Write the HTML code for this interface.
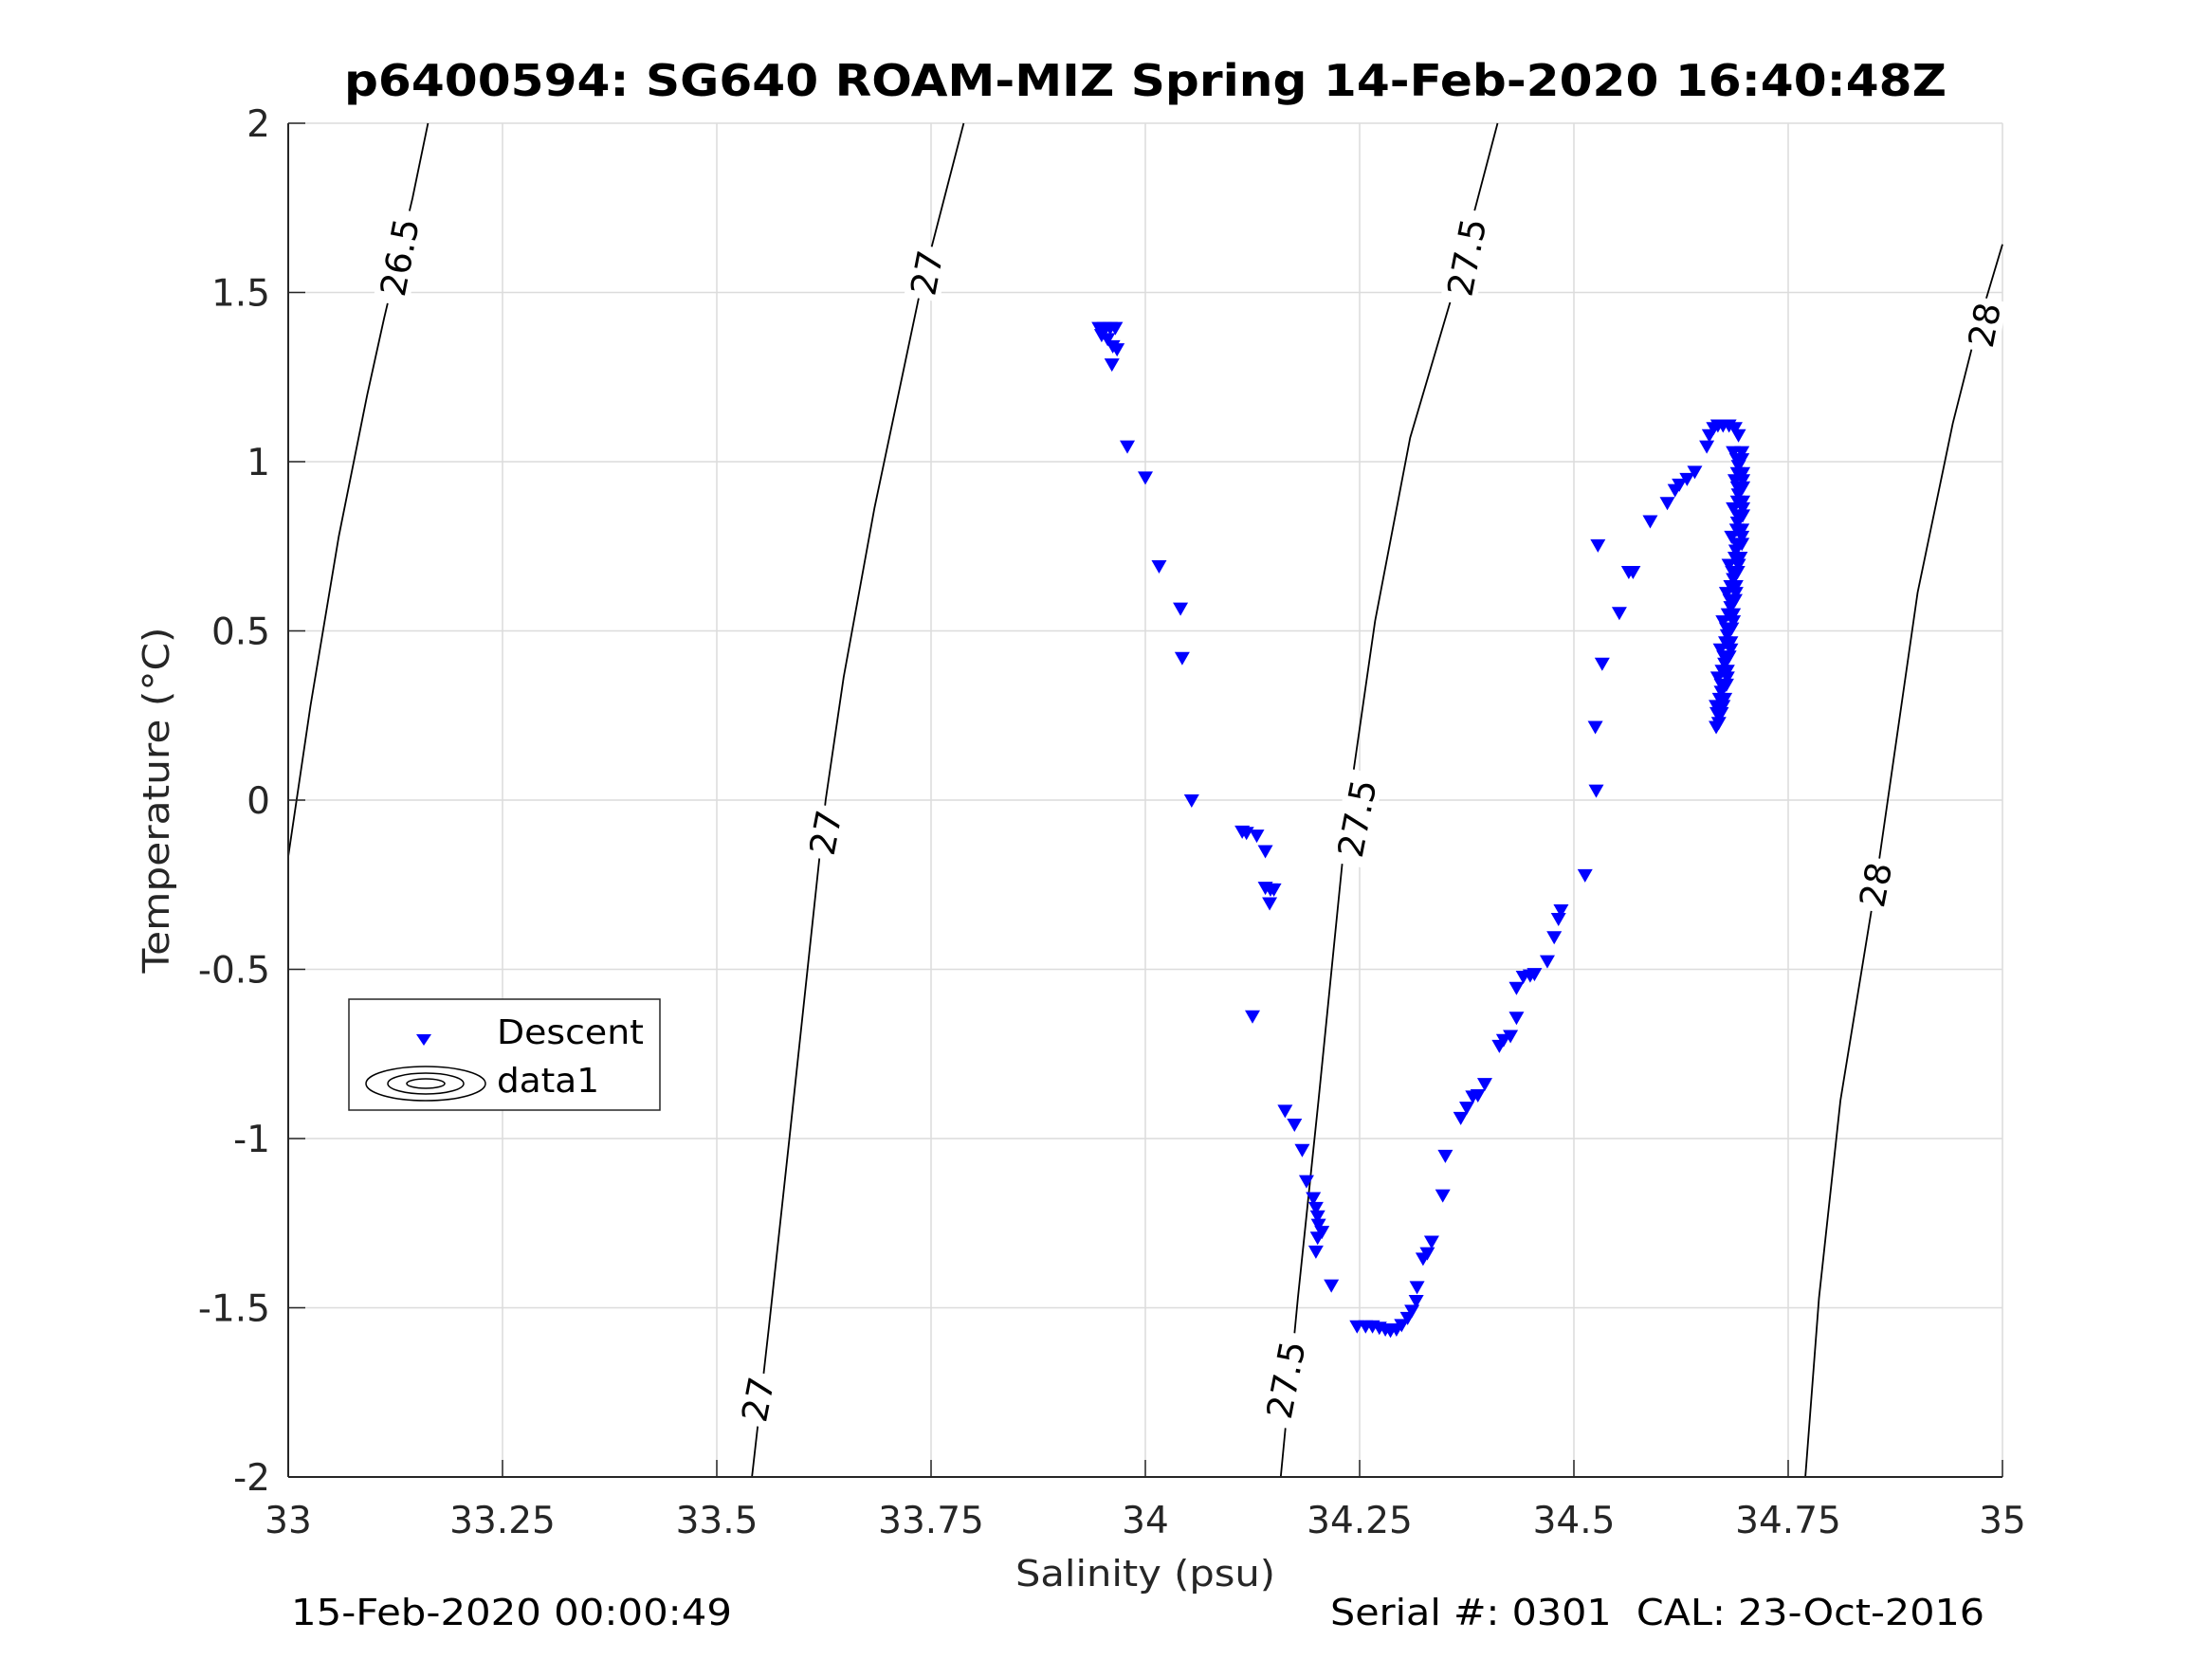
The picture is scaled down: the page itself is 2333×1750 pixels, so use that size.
<!DOCTYPE html>
<html><head><meta charset="utf-8"><style>
html,body{margin:0;padding:0;background:#fff;}
svg{display:block;font-family:"DejaVu Sans","Liberation Sans",sans-serif;}
</style></head><body>
<svg id="chart" width="2333" height="1750" viewBox="0 0 2333 1750" xmlns="http://www.w3.org/2000/svg">
<rect width="2333" height="1750" fill="#fff"/>
<text x="1208" y="101" text-anchor="middle" font-size="46" font-weight="bold" fill="#000" textLength="1690" lengthAdjust="spacingAndGlyphs">p6400594: SG640 ROAM-MIZ Spring 14-Feb-2020 16:40:48Z</text>
<g id="grid"></g>
<g id="contours"></g>
<g id="points"></g>
<g id="axes"></g>
<text transform="translate(178,844) rotate(-90)" text-anchor="middle" font-size="38" fill="#262626" textLength="365" lengthAdjust="spacingAndGlyphs">Temperature (°C)</text>
<text x="1208" y="1673" text-anchor="middle" font-size="38" fill="#262626" textLength="274" lengthAdjust="spacingAndGlyphs">Salinity (psu)</text>
<text x="307" y="1714" font-size="38" fill="#000" textLength="465" lengthAdjust="spacingAndGlyphs">15-Feb-2020 00:00:49</text>
<text x="1403" y="1714" font-size="38" fill="#000" textLength="690" lengthAdjust="spacingAndGlyphs" xml:space="preserve">Serial #: 0301  CAL: 23-Oct-2016</text>
<g>
<rect x="368" y="1054" width="328" height="117" fill="#fff" stroke="#262626" stroke-width="1.5"/>
<polygon points="439,1091 455,1091 447,1103" fill="#0000ff"/>
<text x="524" y="1101" font-size="36" fill="#000" textLength="155" lengthAdjust="spacingAndGlyphs">Descent</text>
<g fill="none" stroke="#000" stroke-width="1.5">
<ellipse cx="449" cy="1143" rx="63" ry="18"/><ellipse cx="449" cy="1143" rx="40" ry="11"/><ellipse cx="449" cy="1143" rx="20" ry="5"/>
</g>
<text x="524" y="1152" font-size="36" fill="#000" textLength="108" lengthAdjust="spacingAndGlyphs">data1</text>
</g>
</svg>
<script>
const xTicks=[33,33.25,33.5,33.75,34,34.25,34.5,34.75,35];
const xTickLabels=["33","33.25","33.5","33.75","34","34.25","34.5","34.75","35"];
const yTicks=[-2,-1.5,-1,-0.5,0,0.5,1,1.5,2];
const yTickLabels=["-2","-1.5","-1","-0.5","0","0.5","1","1.5","2"];
const descentS=[33.946,33.952,33.959,33.965,33.949,33.956,33.962,33.967,33.961,33.979,34.000,34.016,34.041,34.043,34.054,34.113,34.118,34.130,34.140,34.140,34.146,34.150,34.145,34.125,34.163,34.174,34.183,34.188,34.196,34.199,34.201,34.202,34.206,34.201,34.199,34.217,34.247,34.257,34.265,34.273,34.280,34.286,34.293,34.299,34.306,34.311,34.316,34.317,34.324,34.329,34.334,34.347,34.350,34.368,34.375,34.382,34.388,34.396,34.413,34.418,34.426,34.433,34.433,34.441,34.449,34.454,34.469,34.477,34.482,34.485,34.513,34.526,34.525,34.533,34.553,34.528,34.564,34.569,34.589,34.609,34.618,34.623,34.632,34.641,34.655,34.658,34.663,34.668,34.674,34.681,34.688,34.692,34.696,34.697,34.697,34.696,34.692,34.689,34.686,34.683,34.679,34.674,34.669,34.686,34.688,34.686,34.684,34.681,34.678,34.674,34.671,34.668,34.666,34.666,34.692,34.692,34.691,34.689,34.686,34.683,34.679,34.676,34.672,34.669,
34.696,34.697,34.697,34.697,34.697,34.696,34.696,34.694,34.691,34.689,34.688,34.686,34.684,34.683,34.681,34.679,34.678,34.676,34.672,
34.690,34.691,34.691,34.691,34.691,34.690,34.690,34.688,34.685,34.683,34.682,34.680,34.678,34.677,34.675,34.673,34.672,34.670,34.667];
const descentT=[1.396,1.396,1.396,1.396,1.375,1.363,1.342,1.333,1.288,1.046,0.954,0.692,0.567,0.421,0.000,-0.092,-0.096,-0.104,-0.150,-0.258,-0.263,-0.263,-0.304,-0.638,-0.917,-0.958,-1.033,-1.125,-1.175,-1.204,-1.229,-1.254,-1.275,-1.292,-1.333,-1.433,-1.554,-1.554,-1.554,-1.558,-1.563,-1.567,-1.563,-1.550,-1.529,-1.508,-1.479,-1.438,-1.354,-1.338,-1.304,-1.167,-1.050,-0.938,-0.908,-0.875,-0.871,-0.838,-0.725,-0.708,-0.696,-0.642,-0.554,-0.521,-0.517,-0.513,-0.475,-0.404,-0.350,-0.325,-0.221,0.029,0.217,0.404,0.554,0.754,0.675,0.675,0.825,0.879,0.917,0.933,0.950,0.971,1.046,1.079,1.100,1.108,1.108,1.108,1.100,1.079,1.029,0.946,0.863,0.779,0.696,0.613,0.529,0.446,0.363,0.279,0.229,1.029,0.946,0.863,0.779,0.696,0.613,0.529,0.446,0.363,0.279,0.217,0.988,0.904,0.821,0.738,0.654,0.571,0.488,0.404,0.321,0.258,
1.008,0.967,0.925,0.883,0.842,0.800,0.758,0.717,0.675,0.633,0.592,0.550,0.508,0.467,0.425,0.383,0.342,0.300,0.258,
1.008,0.967,0.925,0.883,0.842,0.800,0.758,0.717,0.675,0.633,0.592,0.550,0.508,0.467,0.425,0.383,0.342,0.300,0.258];
const c265S=[33.000,33.026,33.059,33.092,33.112,33.145,33.163];
const c265T=[-0.167,0.279,0.779,1.196,1.425,1.779,2.0];
const c27S=[33.541,33.561,33.586,33.627,33.648,33.684,33.737,33.788];
const c27T=[-2,-1.554,-0.971,0,0.363,0.863,1.5,2];
const c275S=[34.158,34.178,34.202,34.235,34.268,34.309,34.359,34.411];
const c275T=[-2,-1.471,-0.888,-0.054,0.529,1.071,1.5,2];
const c28S=[34.770,34.786,34.811,34.852,34.901,34.942,34.967,35.0];
const c28T=[-2,-1.471,-0.888,-0.25,0.613,1.113,1.363,1.642];
const labelText=["26.5","27","27","27","27.5","27.5","27.5","28","28"];
const labelS=[33.130,33.745,33.627,33.548,34.375,34.247,34.164,34.979,34.852];
const labelT=[1.604,1.558,-0.096,-1.771,1.604,-0.054,-1.713,1.404,-0.25];

const X0=304,X1=2112,Y0=130,Y1=1558;
function xs(s){return X0+(s-33)/(35-33)*(X1-X0);}
function ys(t){return Y1-(t+2)/4*(Y1-Y0);}
const NS="http://www.w3.org/2000/svg";
function mk(tag,attrs,parent){const e=document.createElementNS(NS,tag);for(const k in attrs)e.setAttribute(k,attrs[k]);parent.appendChild(e);return e;}
const grid=document.getElementById('grid'),axes=document.getElementById('axes'),cont=document.getElementById('contours'),pts=document.getElementById('points');
mk('rect',{x:X0,y:Y0,width:X1-X0,height:Y1-Y0,fill:'#fff'},grid);
xTicks.forEach((v,i)=>{
 const g=mk('line',{x1:xs(v),x2:xs(v),y1:Y0,y2:Y1,stroke:'#dcdcdc','stroke-width':1.5},grid);
 
 
 const t=mk('line',{x1:xs(v),x2:xs(v),y1:Y1,y2:Y1-18,stroke:'#262626','stroke-width':1.5},axes);
 
 
 const l=mk('text',{x:xs(v),y:1617,'text-anchor':'middle','font-size':39,fill:'#262626'},axes);
 l.textContent=xTickLabels[i];
 
 
});
yTicks.forEach((v,i)=>{
 const g=mk('line',{x1:X0,x2:X1,y1:ys(v),y2:ys(v),stroke:'#dcdcdc','stroke-width':1.5},grid);
 
 
 const t=mk('line',{x1:X0,x2:X0+18,y1:ys(v),y2:ys(v),stroke:'#262626','stroke-width':1.5},axes);
 
 
 const l=mk('text',{x:285,y:ys(v)+14,'text-anchor':'end','font-size':39,fill:'#262626'},axes);
 l.textContent=yTickLabels[i];
 
 
});
const ax1=mk('line',{x1:X0,x2:X1,y1:Y1,y2:Y1,stroke:'#262626','stroke-width':2},axes);


const ax2=mk('line',{x1:X0,x2:X0,y1:Y0,y2:Y1,stroke:'#262626','stroke-width':2},axes);


[[c265S,c265T,'26.5'],[c27S,c27T,'27'],[c275S,c275T,'27.5'],[c28S,c28T,'28']].forEach(c=>{
 const d=c[0].map((s,i)=>(i?'L':'M')+xs(s).toFixed(1)+','+ys(c[1][i]).toFixed(1)).join(' ');
 const p=mk('path',{d:d,fill:'none',stroke:'#000','stroke-width':1.8},cont);
 
 
});
labelText.forEach((txt,i)=>{
 const cx=xs(labelS[i]),cy=ys(labelT[i]);
 const g=mk('g',{transform:'translate('+cx.toFixed(1)+','+cy.toFixed(1)+') rotate(-79)'},cont);
 
 
 const w=txt.length*22+12;
 mk('rect',{x:-w/2,y:-19,width:w,height:38,fill:'#fff'},g);
 const t=mk('text',{x:0,y:13,'text-anchor':'middle','font-size':37,fill:'#000'},g);
 t.textContent=txt;
});
descentS.forEach((s,i)=>{
 const x=xs(s),y=ys(descentT[i]);
 const p=mk('polygon',{points:(x-8)+','+(y-6)+' '+(x+8)+','+(y-6)+' '+x+','+(y+8),fill:'#0000ff'},pts);
 
 
});
</script>
</body></html>
